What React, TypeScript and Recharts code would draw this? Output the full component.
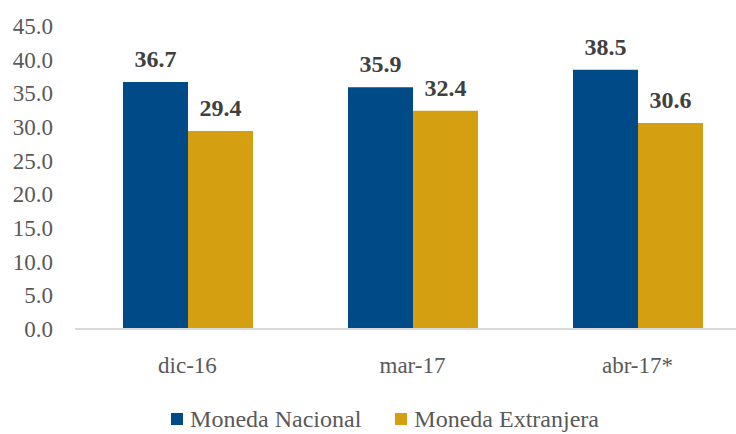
import { BarChart, Bar, XAxis, YAxis, LabelList } from "recharts";

const categories = ["dic-16", "mar-17", "abr-17*"];
const monedaNacional = [36.7, 35.9, 38.5];
const monedaExtranjera = [29.4, 32.4, 30.6];
const yTicks = [0, 5, 10, 15, 20, 25, 30, 35, 40, 45];

const data = categories.map((name, i) => ({
  name,
  nacional: monedaNacional[i],
  extranjera: monedaExtranjera[i],
}));

const FONT = "Times New Roman";
const BLUE = "#004B87";
const GOLD = "#D4A012";

const legendItems = [
  { label: "Moneda Nacional", color: BLUE },
  { label: "Moneda Extranjera", color: GOLD },
];

function XTick(props: any) {
  const { x, y, payload } = props;
  return (
    <text x={x} y={y + 17} textAnchor="middle" fill="#595959" fontFamily={FONT} fontSize={23}>
      {payload.value}
    </text>
  );
}

function YTick(props: any) {
  const { x, y, payload } = props;
  return (
    <text x={x} y={y + 8} textAnchor="end" fill="#595959" fontFamily={FONT} fontSize={23}>
      {Number(payload.value).toFixed(1)}
    </text>
  );
}

function BarLabel(props: any) {
  const { x, y, width, value } = props;
  return (
    <text
      x={x + width / 2}
      y={y - 15}
      textAnchor="middle"
      fill="#404040"
      fontFamily={FONT}
      fontSize={24}
      fontWeight={700}
    >
      {Number(value).toFixed(1)}
    </text>
  );
}

export default function App() {
  return (
    <div
      style={{
        position: "fixed",
        left: 0,
        top: 0,
        width: 736,
        height: 434,
        overflow: "hidden",
        background: "#fff",
        fontFamily: FONT,
      }}
    >
      <BarChart
        width={760}
        height={404}
        data={data}
        margin={{ top: 26, right: 10, bottom: 0, left: 0 }}
        barGap={0}
        barCategoryGap={48}
      >
        <XAxis
          dataKey="name"
          height={75}
          tickLine={false}
          tickSize={0}
          tickMargin={27}
          axisLine={{ stroke: "#D9D9D9", strokeWidth: 2 }}
          tick={<XTick />}
        />
        <YAxis
          width={75}
          domain={[0, 45]}
          ticks={yTicks}
          axisLine={false}
          tickLine={false}
          tickSize={0}
          tickMargin={22}
          tick={<YTick />}
        />
        <Bar dataKey="nacional" fill={BLUE} isAnimationActive={false}>
          <LabelList dataKey="nacional" content={<BarLabel />} />
        </Bar>
        <Bar dataKey="extranjera" fill={GOLD} isAnimationActive={false}>
          <LabelList dataKey="extranjera" content={<BarLabel />} />
        </Bar>
      </BarChart>
      <div
        style={{
          width: 760,
          height: 30,
          display: "flex",
          justifyContent: "center",
          alignItems: "center",
          paddingLeft: 10,
          boxSizing: "border-box",
          fontSize: 24,
          color: "#595959",
        }}
      >
        {legendItems.map((it, i) => (
          <div
            key={it.label}
            style={{ display: "flex", alignItems: "center", marginLeft: i ? 34 : 0 }}
          >
            <span
              style={{ width: 12, height: 12, background: it.color, marginRight: 7 }}
            />
            <span>{it.label}</span>
          </div>
        ))}
      </div>
    </div>
  );
}
